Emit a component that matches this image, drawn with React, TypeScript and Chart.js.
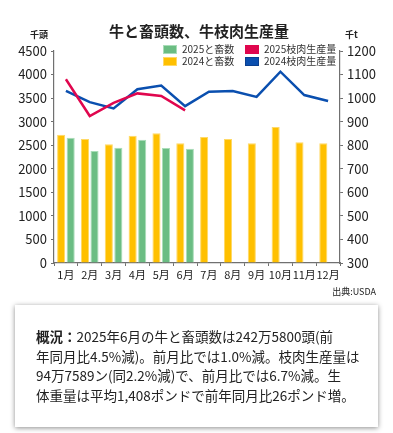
import React, { useEffect, useRef } from "react";
import { Chart, registerables } from "chart.js";
Chart.register(...registerables);

const months = ["1月", "2月", "3月", "4月", "5月", "6月", "7月", "8月", "9月", "10月", "11月", "12月"];
const slaughter2024 = [2720, 2632, 2519, 2703, 2753, 2540, 2675, 2632, 2540, 2887, 2562, 2540];
const slaughter2025 = [2660, 2377, 2448, 2618, 2441, 2426, null, null, null, null, null, null];
const beef2024 = [1031, 983, 956, 1038, 1053, 966, 1027, 1030, 1005, 1112, 1013, 988];
const beef2025 = [1080, 924, 980, 1020, 1009, 948, null, null, null, null, null, null];
const leftRange = { min: 0, max: 4500, step: 500 };
const rightRange = { min: 300, max: 1200, step: 100 };

const FONT = '"Noto Sans CJK JP", "Noto Sans", sans-serif';
const C_ORANGE = "#FFC000";
const C_ORANGE_B = "#FFD966";
const C_GREEN = "#6BBD83";
const C_GREEN_B = "#A9DDB8";
const C_RED = "#E0064E";
const C_BLUE = "#0A4FAF";
const AXIS = "#707070";

export default function App() {
  const ref = useRef<HTMLCanvasElement | null>(null);
  useEffect(() => {
    if (!ref.current) return;
    const chart = new Chart(ref.current, {
      type: "bar",
      data: {
        labels: months,
        datasets: [
          {
            type: "line",
            label: "2025枝肉生産量",
            data: beef2025,
            borderColor: C_RED,
            backgroundColor: C_RED,
            borderWidth: 2.5,
            pointRadius: 0,
            yAxisID: "y1",
            order: 0,
          } as any,
          {
            type: "line",
            label: "2024枝肉生産量",
            data: beef2024,
            borderColor: C_BLUE,
            backgroundColor: C_BLUE,
            borderWidth: 2.5,
            pointRadius: 0,
            yAxisID: "y1",
            order: 1,
          } as any,
          {
            label: "2024と畜数",
            data: slaughter2024,
            backgroundColor: C_ORANGE,
            borderColor: C_ORANGE_B,
            borderWidth: 1,
            yAxisID: "y",
            order: 2,
            barPercentage: 0.85,
            categoryPercentage: 0.8,
          },
          {
            label: "2025と畜数",
            data: slaughter2025,
            backgroundColor: C_GREEN,
            borderColor: C_GREEN_B,
            borderWidth: 1,
            yAxisID: "y",
            order: 3,
            barPercentage: 0.85,
            categoryPercentage: 0.8,
          },
        ],
      },
      options: {
        animation: false,
        responsive: false,
        maintainAspectRatio: false,
        layout: { padding: { top: 51, left: 0, right: 0, bottom: 0 } },
        plugins: { legend: { display: false }, tooltip: { enabled: false }, title: { display: false } },
        scales: {
          x: {
            grid: { display: true, drawOnChartArea: false, tickLength: 3, color: AXIS, offset: true },
            border: { color: AXIS, width: 1.2 },
            ticks: {
              autoSkip: false,
              maxRotation: 0,
              padding: 2,
              color: "#222",
              font: { family: FONT, size: 11 },
            },
            afterFit: (s: any) => {
              s.height = 27;
            },
          },
          y: {
            position: "left",
            min: leftRange.min,
            max: leftRange.max,
            grid: { display: true, drawOnChartArea: false, tickLength: 3, color: AXIS },
            border: { color: AXIS, width: 1.2 },
            ticks: {
              stepSize: leftRange.step,
              padding: 4,
              color: "#222",
              font: { family: FONT, size: 13 },
              callback: (v: any) => String(v),
            },
            afterFit: (s: any) => {
              s.width = 54;
            },
          },
          y1: {
            position: "right",
            min: rightRange.min,
            max: rightRange.max,
            grid: { display: true, drawOnChartArea: false, tickLength: 3, color: AXIS },
            border: { color: AXIS, width: 1.2 },
            ticks: {
              stepSize: rightRange.step,
              padding: 4,
              color: "#222",
              font: { family: FONT, size: 13 },
              callback: (v: any) => String(v),
            },
            afterFit: (s: any) => {
              s.width = 53;
            },
          },
        },
      },
    });
    return () => chart.destroy();
  }, []);

  const legendItem = (x: number, y: number, fill: string, border: string, text: string) => (
    <div style={{ position: "absolute", left: x, top: y, display: "flex", alignItems: "center", height: 10 }}>
      <div style={{ width: 12, height: 7, background: fill, border: `1px solid ${border}`, marginRight: 5 }} />
      <span style={{ fontSize: 10, color: "#333", whiteSpace: "nowrap", lineHeight: "10px" }}>{text}</span>
    </div>
  );

  return (
    <div
      style={{
        position: "fixed",
        left: 0,
        top: 0,
        width: 393,
        height: 433,
        background: "#fff",
        fontFamily: FONT,
        overflow: "hidden",
      }}
    >
      <canvas ref={ref} width={393} height={290} style={{ position: "absolute", left: 0, top: 0, width: 393, height: 290 }} />
      <div
        style={{
          position: "absolute",
          left: 0,
          width: 398,
          top: 20,
          textAlign: "center",
          fontSize: 15,
          fontWeight: 700,
          color: "#222",
          lineHeight: "22px",
        }}
      >
        牛と畜頭数、牛枝肉生産量
      </div>
      <div style={{ position: "absolute", left: 30, top: 29, fontSize: 9, fontWeight: 700, color: "#222", lineHeight: "12px" }}>千頭</div>
      <div style={{ position: "absolute", left: 345, top: 29, fontSize: 9, fontWeight: 700, color: "#222", lineHeight: "12px" }}>千t</div>
      {legendItem(163, 44, C_GREEN, C_GREEN_B, "2025と畜数")}
      {legendItem(163, 56, C_ORANGE, C_ORANGE_B, "2024と畜数")}
      {legendItem(245, 44, C_RED, C_RED, "2025枝肉生産量")}
      {legendItem(245, 56, C_BLUE, "#0A3F8F", "2024枝肉生産量")}
      <div style={{ position: "absolute", right: 17, top: 286, fontSize: 9, color: "#222", lineHeight: "12px" }}>出典:USDA</div>
      <div
        style={{
          position: "absolute",
          left: 15,
          top: 305,
          width: 363,
          height: 122,
          background: "#fff",
          boxShadow: "0 1px 5px rgba(0,0,0,0.45)",
          boxSizing: "border-box",
          padding: "22px 0 0 21px",
          fontSize: 13.5,
          lineHeight: "19.5px",
          color: "#222",
          whiteSpace: "nowrap",
        }}
      >
        <b>概況：</b>2025年6月の牛と畜頭数は242万5800頭(前
        <br />
        年同月比4.5%減)。前月比では1.0%減。枝肉生産量は
        <br />
        94万7589ン(同2.2%減)で、前月比では6.7%減。生
        <br />
        体重量は平均1,408ポンドで前年同月比26ポンド増。
      </div>
    </div>
  );
}
